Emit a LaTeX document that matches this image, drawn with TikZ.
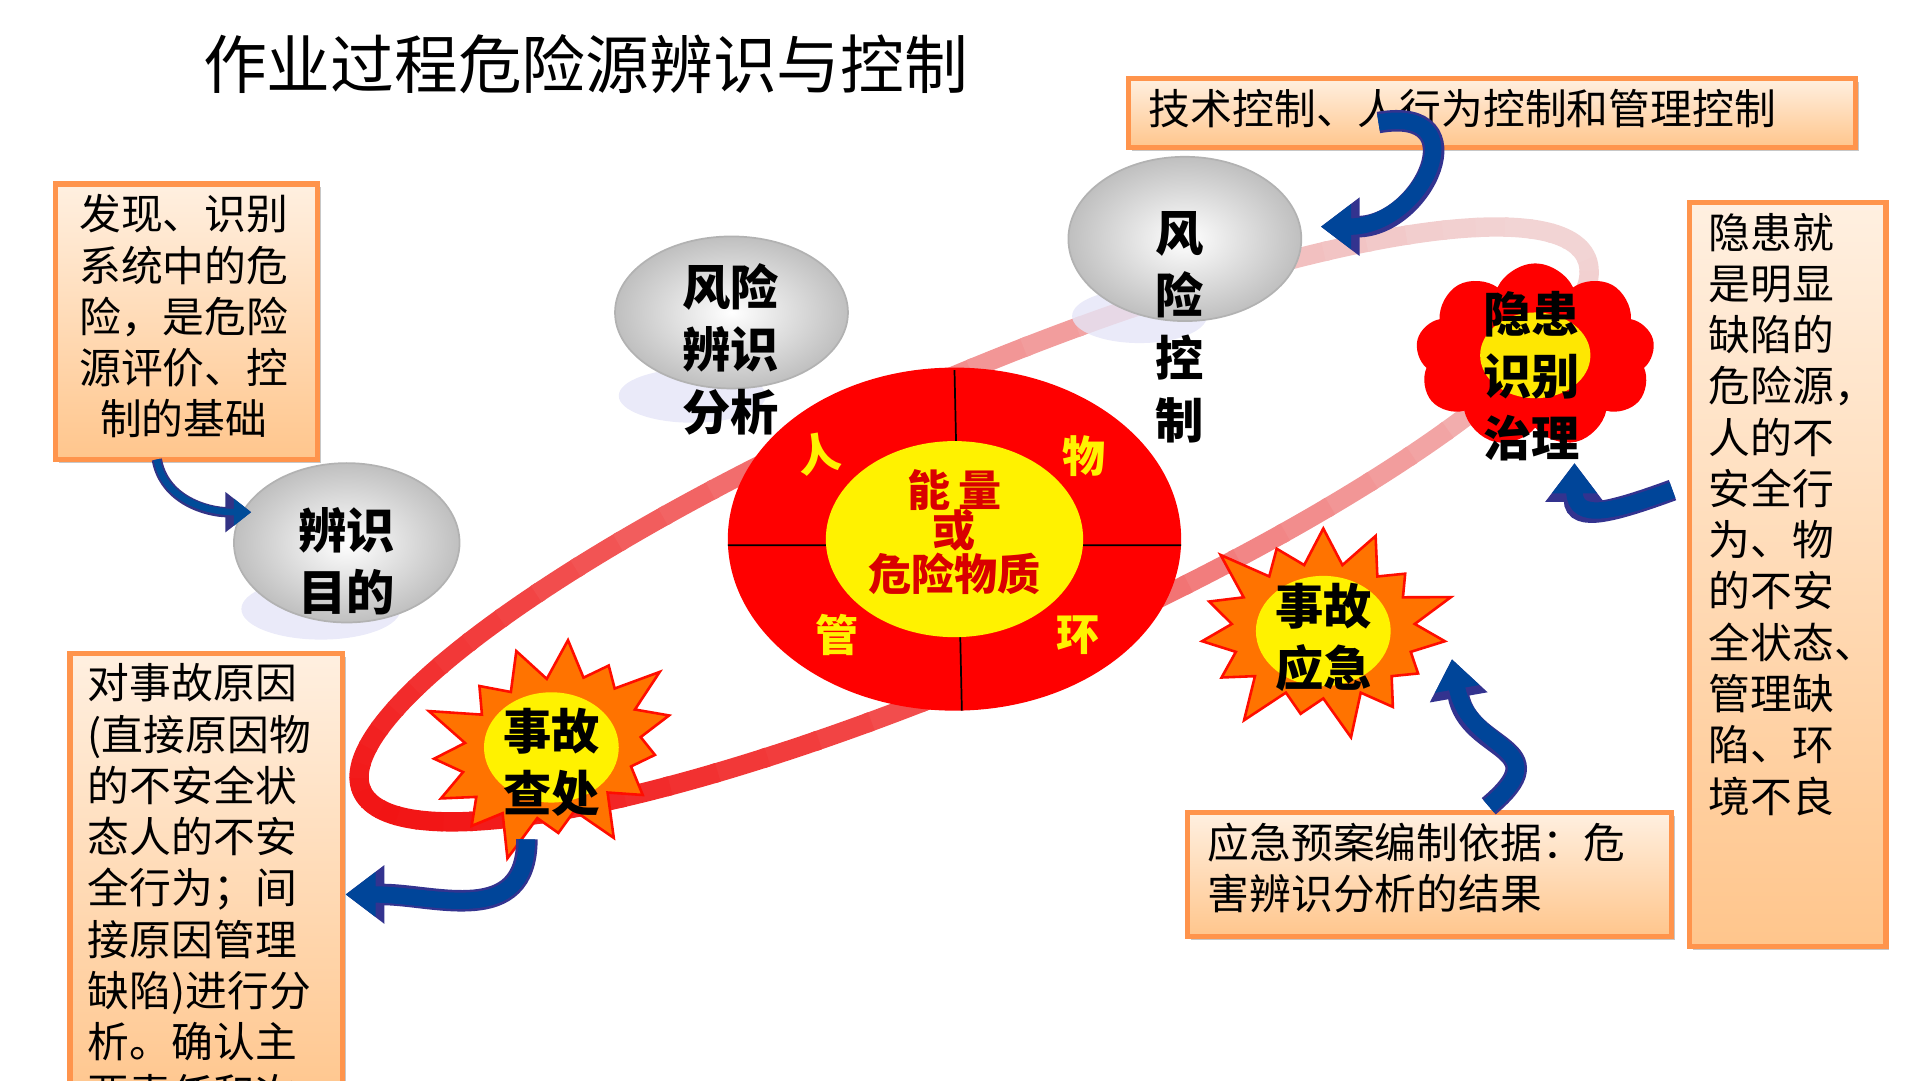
\documentclass[tikz,border=0pt]{standalone}
\usepackage{fontspec}
\setmainfont{Noto Sans CJK SC}
\usetikzlibrary{shapes.geometric,shapes.symbols,arrows.meta}
\tikzset{
 box/.style={draw=orange!80!red!70, line width=1.2pt, top color=orange!12, bottom color=orange!45, anchor=north west, inner sep=0},
 btext/.style={anchor=north west, align=left, inner sep=0, font=\fontsize{9.7}{11.9}\selectfont},
 bubble/.style={ellipse, draw=black!30, shading=radial, inner color=white, outer color=black!25},
 bshadow/.style={fill=black!30!blue!10!white, opacity=.8},
 blab/.style={align=center, font=\fontsize{11.2}{14.5}\selectfont\bfseries},
 barrow/.style={line width=5pt, draw=blue!45!black!80, -{Triangle[length=9pt,width=13pt]}},
 barrowin/.style={line width=3.8pt, draw=blue!55!cyan!60!black, -{Triangle[length=7pt,width=10pt]}},
 boom/.style={starburst, starburst points=15, starburst point height=0.4cm, fill=orange!90!red, draw=red!90!orange, line width=.6pt},
 clab/.style={font=\fontsize{10}{10}\selectfont\bfseries},
}
\begin{document}
\begin{tikzpicture}[x=0.01cm,y=-0.01cm]
\useasboundingbox (0,0) rectangle (1567,882);
% ring
\foreach \t in {0,5,...,355}{
 \pgfmathsetmacro{\p}{int(55-42*cos(\t+15))}
 \draw[line width=4.5pt, color=red!\p!white!90!gray, shift={(795,428)}, rotate=23.5]
   (\t:545 and 118) arc[start angle=\t, end angle=\t+5.5, x radius=545, y radius=118];
}
% title
\node[font=\fontsize{14.8}{16}\selectfont] (title) at (478,52) {作业过程危险源辨识与控制};
% center disc
\fill[red] (779,440) ellipse[x radius=185, y radius=140];
\draw[black, line width=.4pt] (779,302)--(785,580) (594,445)--(964,445);
\fill[yellow] (779,440) ellipse[x radius=105, y radius=80];
\node[clab, text=red!85!black] (c1) at (779,400) {能\,量};
\node[clab, text=red!85!black] (c2) at (779,433) {或};
\node[clab, text=red!85!black] (c3) at (779,468) {危险物质};
\node[clab, text=yellow, rotate=10] (o1) at (668,370) {人};
\node[clab, text=yellow] (o2) at (885,372) {物};
\node[clab, text=yellow] (o3) at (683,518) {管};
\node[clab, text=yellow] (o4) at (880,518) {环};
% bubbles
\fill[bshadow] (262,497) ellipse[x radius=65, y radius=25];
\node[bubble, minimum width=1.84cm, minimum height=1.3cm] (b1) at (283,443) {};
\node[blab] at (283,458) {辨识\\目的};
\fill[bshadow] (565,323) ellipse[x radius=60, y radius=22];
\node[bubble, minimum width=1.9cm, minimum height=1.24cm] (b2) at (597,255) {};
\node[blab] at (596,285) {风险\\辨识\\分析};
\fill[bshadow] (930,258) ellipse[x radius=55, y radius=22];
\node[bubble, minimum width=1.9cm, minimum height=1.34cm] (b3) at (967,195) {};
\node[blab] at (963,267) {风\\险\\控\\制};
% flower
\node[cloud, cloud puffs=9, cloud puff arc=130, aspect=1.3, fill=red, minimum width=1.95cm, minimum height=1.5cm] (fl) at (1253,290) {};
\fill[yellow!90!orange] (1253,290) ellipse[x radius=45, y radius=35];
\node[blab] at (1250,307) {隐患\\识别\\治理};
% explosions
\node[boom, minimum width=2.3cm, minimum height=1.9cm] (e1) at (1080,515) {};
\fill[yellow] (1080,515) ellipse[x radius=55, y radius=45];
\node[blab] at (1080,520) {事故\\应急};
\node[boom, minimum width=2.3cm, minimum height=1.9cm, rotate=20] (e2) at (450,610) {};
\fill[yellow] (450,610) ellipse[x radius=55, y radius=45];
\node[blab] at (450,622) {事故\\查处};
% boxes
\fill[black!22] (924,67) rectangle (1517,123);
\node[box, minimum width=5.93cm, minimum height=0.56cm] (tb) at (919,62) {};
\node[btext] at (937,72) {技术控制、人行为控制和管理控制};
\fill[black!22] (48,153) rectangle (262,378);
\node[box, minimum width=2.14cm, minimum height=2.25cm] (lb) at (43,148) {};
\node[btext, align=center] at (64,158) {发现、识别\\系统中的危\\险，是危险\\源评价、控\\制的基础};
\fill[black!22] (60,536) rectangle (282,900);
\node[box, minimum width=2.22cm, minimum height=3.7cm] (lbb) at (55,531) {};
\node[btext] at (71,541) {对事故原因\\(直接原因物\\的不安全状\\态人的不安\\全行为；间\\接原因管理\\缺陷)进行分\\析。确认主\\要责任和次};
\fill[black!22] (1382,168) rectangle (1542,775);
\node[box, minimum width=1.6cm, minimum height=6.07cm] (rb) at (1377,163) {};
\node[btext] at (1394,173) {隐患就\\是明显\\缺陷的\\危险源，\\人的不\\安全行\\为、物\\的不安\\全状态、\\管理缺\\陷、环\\境不良};
\fill[black!22] (972,666) rectangle (1367,767);
\node[box, minimum width=3.95cm, minimum height=1.01cm] (bb) at (967,661) {};
\node[btext] at (985,671) {应急预案编制依据：危\\害辨识分析的结果};
% curved arrows
\coordinate (a1s) at (128,375); \coordinate (a1e) at (205,418);
\draw[line width=2.4pt, draw=blue!40!black!80, -{Triangle[length=6pt,width=9pt]}] (a1s) to[out=-80,in=180] (a1e);
\draw[line width=1.5pt, draw=blue!50!cyan!60!black, -{Triangle[length=4pt,width=6pt]}] (a1s) to[out=-80,in=180] (a1e);
\coordinate (a2s) at (1125,100); \coordinate (a2e) at (1078,185);
\draw[barrow] (a2s) to[out=10,in=0,looseness=2.2] (a2e);
\draw[barrowin] (a2s) to[out=10,in=0,looseness=2.2] (a2e);
\coordinate (a3s) at (1365,400); \coordinate (a3e) at (1285,378);
\draw[barrow] (a3s) to[out=200,in=-90,looseness=1.5] (a3e);
\draw[barrowin] (a3s) to[out=200,in=-90,looseness=1.5] (a3e);
\coordinate (a4s) at (1215,658); \coordinate (a4e) at (1185,538);
\draw[barrow] (a4s) to[out=40,in=-80,looseness=1.6] (a4e);
\draw[barrowin] (a4s) to[out=40,in=-80,looseness=1.6] (a4e);
\coordinate (a5s) at (430,685); \coordinate (a5e) at (282,730);
\draw[barrow] (a5s) to[out=-90,in=0,looseness=1.2] (a5e);
\draw[barrowin] (a5s) to[out=-90,in=0,looseness=1.2] (a5e);
\end{tikzpicture}
\end{document}
